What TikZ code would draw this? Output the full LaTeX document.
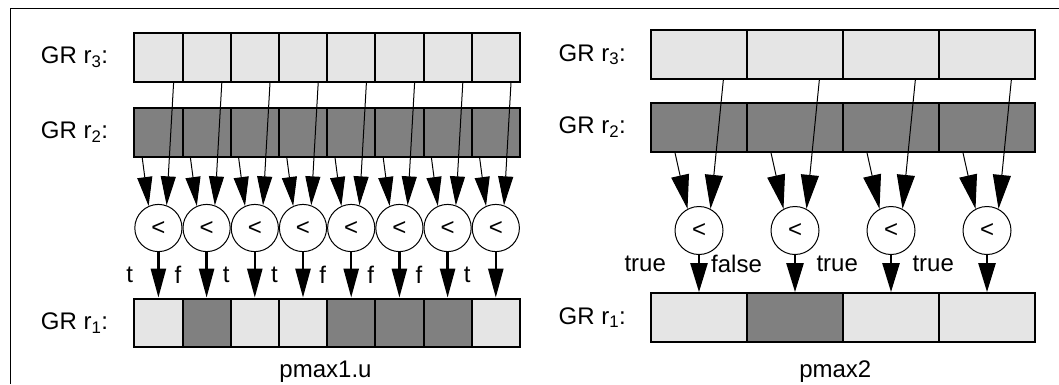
\documentclass[tikz,border=0pt]{standalone}
\usepackage{fontspec}
\setmainfont{Liberation Sans}
\usetikzlibrary{arrows.meta,calc}
\definecolor{reglight}{gray}{0.9}
\definecolor{regdark}{gray}{0.5}
\newcommand{\grcell}[3] {\node at (#1) (#2) [grcell, fill=#3] {};}
\newcommand{\grlabel}[3] {\node at (#1) (#2) [anchor=east] {GR r\textsubscript{#3}:};}
\newcommand{\cmpnode}[2] {\node at (#1) (#2) [cmpcircle] {<};}
\newcommand{\cmpin}[3] {\draw [cmpin] ($(#1.south)+(#2,0)$) -- (#3);}
\newcommand{\cmpout}[3] {\draw [cmpout] (#1) -- (#2) node [outlabel] {#3};}

\begin{document}
\begin{tikzpicture}[x=1pt, y=-1pt, font=\fontsize{24}{28}\selectfont,
  grcell/.style={rectangle, draw, line width=2pt, minimum width=48.2pt, minimum height=48.6pt, inner sep=0pt},
  cmpcircle/.style={circle, draw, line width=1pt, minimum size=47.2pt, inner sep=0pt},
  cmpin/.style={-{Triangle[length=29pt, width=15pt]}, line width=1pt},
  cmpout/.style={-{Triangle[length=29pt, width=15pt]}, line width=2.5pt},
  outlabel/.style={midway, left=20.7pt}]

\useasboundingbox (0,0) rectangle (1059,384);
\draw [line width=1pt] (10,384) -- (10,8) -- (1059,8);

% pmax1.u
\grlabel {111.6,57.4}{l3label}{3}
\grcell {158.4,57.4}{l3c1}{reglight}
\grcell {206.6,57.4}{l3c2}{reglight}
\grcell {254.8,57.4}{l3c3}{reglight}
\grcell {303.0,57.4}{l3c4}{reglight}
\grcell {351.2,57.4}{l3c5}{reglight}
\grcell {399.4,57.4}{l3c6}{reglight}
\grcell {447.6,57.4}{l3c7}{reglight}
\grcell {495.8,57.4}{l3c8}{reglight}

\grlabel {111.6,132.3}{l2label}{2}
\grcell {158.4,132.3}{l2c1}{regdark}
\grcell {206.6,132.3}{l2c2}{regdark}
\grcell {254.8,132.3}{l2c3}{regdark}
\grcell {303.0,132.3}{l2c4}{regdark}
\grcell {351.2,132.3}{l2c5}{regdark}
\grcell {399.4,132.3}{l2c6}{regdark}
\grcell {447.6,132.3}{l2c7}{regdark}
\grcell {495.8,132.3}{l2c8}{regdark}

\cmpnode {158.4,228}{lcmp1}
\cmpnode {206.6,228}{lcmp2}
\cmpnode {254.8,228}{lcmp3}
\cmpnode {303.0,228}{lcmp4}
\cmpnode {351.2,228}{lcmp5}
\cmpnode {399.4,228}{lcmp6}
\cmpnode {447.6,228}{lcmp7}
\cmpnode {495.8,228}{lcmp8}

\cmpin {l2c1}{-16.2}{lcmp1.114}
\cmpin {l3c1}{15.2}{lcmp1.70}
\cmpin {l2c2}{-16.2}{lcmp2.114}
\cmpin {l3c2}{15.2}{lcmp2.70}
\cmpin {l2c3}{-16.2}{lcmp3.114}
\cmpin {l3c3}{15.2}{lcmp3.70}
\cmpin {l2c4}{-16.2}{lcmp4.114}
\cmpin {l3c4}{15.2}{lcmp4.70}
\cmpin {l2c5}{-16.2}{lcmp5.114}
\cmpin {l3c5}{15.2}{lcmp5.70}
\cmpin {l2c6}{-16.2}{lcmp6.114}
\cmpin {l3c6}{15.2}{lcmp6.70}
\cmpin {l2c7}{-16.2}{lcmp7.114}
\cmpin {l3c7}{15.2}{lcmp7.70}
\cmpin {l2c8}{-16.2}{lcmp8.114}
\cmpin {l3c8}{15.2}{lcmp8.70}

\grlabel {111.6,322.9}{l1label}{1}
\grcell {158.4,322.9}{l1c1}{reglight}
\grcell {206.6,322.9}{l1c2}{regdark}
\grcell {254.8,322.9}{l1c3}{reglight}
\grcell {303.0,322.9}{l1c4}{reglight}
\grcell {351.2,322.9}{l1c5}{regdark}
\grcell {399.4,322.9}{l1c6}{regdark}
\grcell {447.6,322.9}{l1c7}{regdark}
\grcell {495.8,322.9}{l1c8}{reglight}

\cmpout {lcmp1}{l1c1}{t}
\cmpout {lcmp2}{l1c2}{f}
\cmpout {lcmp3}{l1c3}{t}
\cmpout {lcmp4}{l1c4}{t}
\cmpout {lcmp5}{l1c5}{f}
\cmpout {lcmp6}{l1c6}{f}
\cmpout {lcmp7}{l1c7}{f}
\cmpout {lcmp8}{l1c8}{t}

\node at (325.5,372) (lcaption) {pmax1.u};

% pmax2
\begin{scope}[grcell/.append style={minimum width=96pt, minimum height=48.8pt},
  cmpcircle/.append style={minimum size=48pt},
  cmpin/.style={-{Triangle[length=34pt, width=18pt]}, line width=1pt},
  cmpout/.style={-{Triangle[length=29pt, width=17pt]}, line width=2.5pt},
  outlabel/.style={pos=0.25, left=28.5pt}]

\grlabel {629.3,54.8}{r3label}{3}
\grcell {699,54.8}{r3c1}{reglight}
\grcell {795,54.8}{r3c2}{reglight}
\grcell {891,54.8}{r3c3}{reglight}
\grcell {987,54.8}{r3c4}{reglight}

\grlabel {629.3,127.4}{r2label}{2}
\grcell {699,127.4}{r2c1}{regdark}
\grcell {795,127.4}{r2c2}{regdark}
\grcell {891,127.4}{r2c3}{regdark}
\grcell {987,127.4}{r2c4}{regdark}

\cmpnode {699,230.5}{rcmp1}
\cmpnode {795,230.5}{rcmp2}
\cmpnode {891,230.5}{rcmp3}
\cmpnode {987,230.5}{rcmp4}

\cmpin {r2c1}{-24}{rcmp1.118}
\cmpin {r3c1}{24.3}{rcmp1.62}
\cmpin {r2c2}{-24}{rcmp2.118}
\cmpin {r3c2}{24.3}{rcmp2.62}
\cmpin {r2c3}{-24}{rcmp3.118}
\cmpin {r3c3}{24.3}{rcmp3.62}
\cmpin {r2c4}{-24}{rcmp4.118}
\cmpin {r3c4}{24.3}{rcmp4.62}

\grlabel {629.3,317.5}{r1label}{1}
\grcell {699,317.5}{r1c1}{reglight}
\grcell {795,317.5}{r1c2}{regdark}
\grcell {891,317.5}{r1c3}{reglight}
\grcell {987,317.5}{r1c4}{reglight}

\cmpout {rcmp1}{r1c1}{true}
\cmpout {rcmp2}{r1c2}{false}
\cmpout {rcmp3}{r1c3}{true}
\cmpout {rcmp4}{r1c4}{true}

\node at (835.3,372) (rcaption) {pmax2};
\end{scope}

\end{tikzpicture}
\end{document}
